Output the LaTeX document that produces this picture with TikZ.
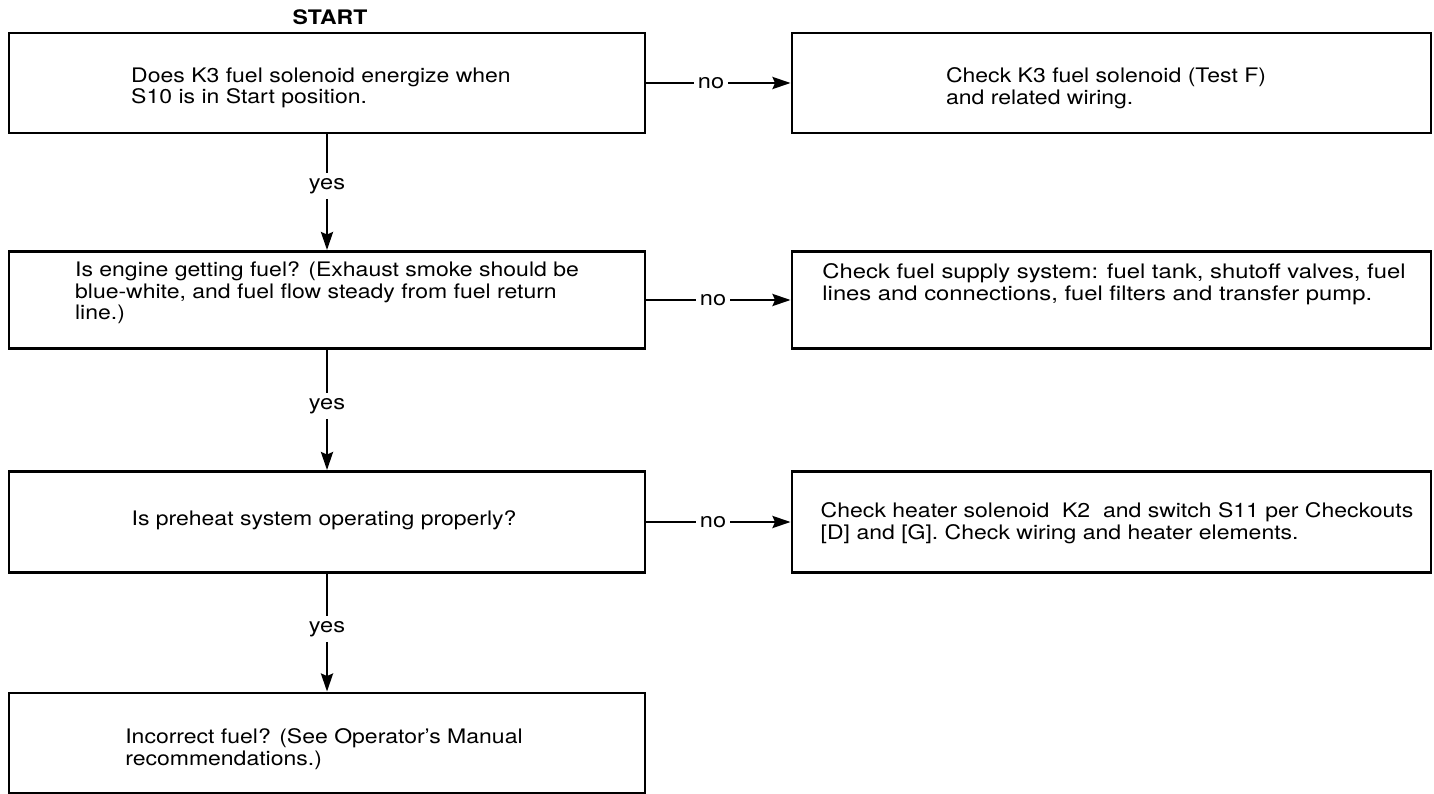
\documentclass[tikz,border=0pt]{standalone}
\usepackage{fontspec}
\setmainfont[FakeStretch=1.15]{TeX Gyre Heros}
\newfontfamily\widerfont[FakeStretch=1.19]{TeX Gyre Heros}
\usetikzlibrary{arrows.meta}
\begin{document}
\begin{tikzpicture}[x=1pt,y=-1pt,
  box/.style={draw, line width=2.9pt, rectangle, inner sep=0pt, minimum height=100pt},
  lbox/.style={box, minimum width=636pt},
  rbox/.style={box, minimum width=639pt},
  txt/.style={align=left, inner sep=0pt, font=\fontsize{20}{21.5}\selectfont},
  lab/.style={inner sep=5pt, font=\fontsize{20.5}{22}\selectfont},
  conn/.style={line width=2.6pt},
  arr/.style={conn, -{Stealth[length=18pt,width=12pt,inset=2.5pt]}}
]
\useasboundingbox (0,0) rectangle (1434,794);
\node[font=\bfseries\fontsize{20}{22}\selectfont, inner sep=0pt] (start) at (330,17) {START};
\node[lbox] (b1) at (327,83) {};
\node[rbox] (b2) at (1111.5,83) {};
\node[lbox, minimum height=97pt] (b3) at (327,300) {};
\node[rbox, minimum height=97pt] (b4) at (1111.5,300) {};
\node[lbox, minimum height=101pt] (b5) at (327,522) {};
\node[rbox, minimum height=101pt] (b6) at (1111.5,522) {};
\node[lbox] (b7) at (327,743) {};
\node[txt] (t1) at (321,88) {Does K3 fuel solenoid energize when\\S10 is in Start position.};
\node[txt] (t2) at (1106,88) {Check K3 fuel solenoid (Test F)\\and related wiring.};
\node[txt] (t3) at (327,293) {Is engine getting fuel? (Exhaust smoke should be\\blue-white, and fuel flow steady from fuel return\\line.)};
\node[txt, font=\widerfont\fontsize{20}{21.5}\selectfont] (t4) at (1114,284) {Check fuel supply system: fuel tank, shutoff valves, fuel\\lines and connections, fuel filters and transfer pump.};
\node[txt] (t5) at (324,520) {Is preheat system operating properly?};
\node[txt] (t6) at (1117,523) {Check heater solenoid\ \ K2\ \ and switch S11 per Checkouts\\{}[D] and [G]. Check wiring and heater elements.};
\node[txt] (t7) at (324,749) {Incorrect fuel? (See Operator's Manual\\recommendations.)};
\node[lab] (y1) at (327,186) {yes};
\node[lab] (y2) at (327,406) {yes};
\node[lab] (y3) at (327,629) {yes};
\node[lab, inner xsep=4pt] (n1) at (711,83) {no};
\node[lab, inner xsep=4pt] (n2) at (713,300) {no};
\node[lab, inner xsep=4pt] (n3) at (713,522) {no};
\draw[conn] (b1.south) -- (y1.north);
\draw[arr] (y1.south) -- (b3.north);
\draw[conn] (b3.south) -- (y2.north);
\draw[arr] (y2.south) -- (b5.north);
\draw[conn] (b5.south) -- (y3.north);
\draw[arr] (y3.south) -- (b7.north);
\draw[conn] (b1.east) -- (n1.west);
\draw[arr] (n1.east) -- (b2.west);
\draw[conn] (b3.east) -- (n2.west);
\draw[arr] (n2.east) -- (b4.west);
\draw[conn] (b5.east) -- (n3.west);
\draw[arr] (n3.east) -- (b6.west);
\end{tikzpicture}
\end{document}
